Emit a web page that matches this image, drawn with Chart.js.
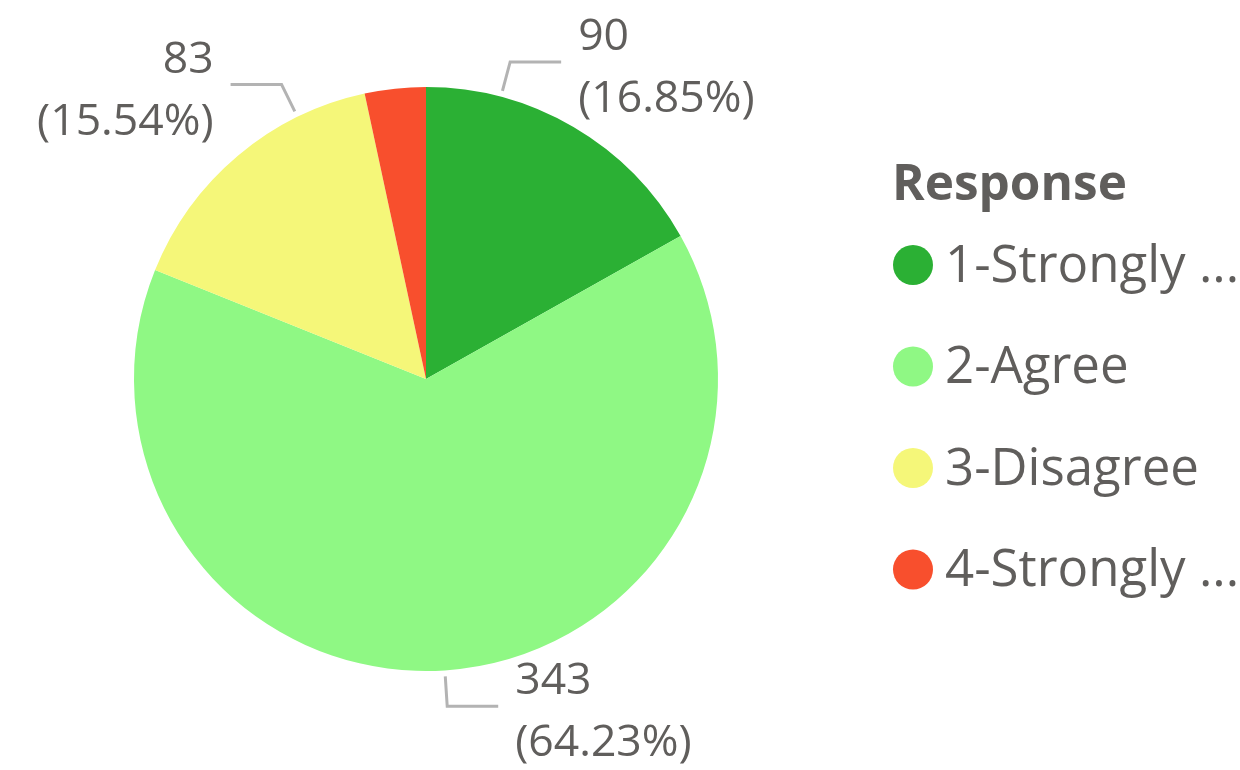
<!DOCTYPE html>
<html>
<head>
<meta charset="utf-8">
<script src="https://cdn.jsdelivr.net/npm/chart.js@4.4.1/dist/chart.umd.min.js"></script>
<style>
  html, body { margin: 0; padding: 0; background: #ffffff; }
  #wrap { position: relative; width: 1240px; height: 770px; }
</style>
</head>
<body>
<div id="wrap"><canvas id="c"></canvas></div>
<script>
const legendTitle = "Response";
const categories = ["1-Strongly Agree", "2-Agree", "3-Disagree", "4-Strongly Disagree"];
const counts = [90, 343, 83, 18];
const sliceColors = ["#2BB034", "#8FF884", "#F5F779", "#F84F2D"];
// where along each slice the leader line leaves (fraction of slice angle); null = no label
const labelAnchorFraction = [0.245, 0.5, 0.75, null];

const FONT = '"Open Sans", "Noto Sans", sans-serif';
const TEXT_COLOR = '#605E5C';

const total = counts.reduce((a, b) => a + b, 0);

const labelPlugin = {
  id: 'pieLabels',
  afterDatasetsDraw(chart) {
    const ctx = chart.ctx;
    const meta = chart.getDatasetMeta(0);
    ctx.save();
    meta.data.forEach((arc, i) => {
      const frac = labelAnchorFraction[i];
      if (frac === null) return;
      const p = arc.getProps(['x', 'y', 'startAngle', 'endAngle', 'outerRadius'], true);
      const a = p.startAngle + (p.endAngle - p.startAngle) * frac;
      const r1 = p.outerRadius + 6, r2 = p.outerRadius + 36;
      const sx = p.x + Math.cos(a) * r1, sy = p.y + Math.sin(a) * r1;
      const ex = p.x + Math.cos(a) * r2, ey = p.y + Math.sin(a) * r2;
      const right = ex >= p.x;
      const hx = ex + (right ? 51 : -51);
      ctx.strokeStyle = '#B3B3B3';
      ctx.lineWidth = 3;
      ctx.lineJoin = 'miter';
      ctx.beginPath();
      ctx.moveTo(sx, sy);
      ctx.lineTo(ex, ey);
      ctx.lineTo(hx, ey);
      ctx.stroke();
      const v = counts[i];
      const pct = (v / total * 100).toFixed(2);
      ctx.fillStyle = TEXT_COLOR;
      ctx.font = '44.5px ' + FONT;
      ctx.textBaseline = 'alphabetic';
      ctx.textAlign = right ? 'left' : 'right';
      const tx = hx + (right ? 17 : -17);
      ctx.fillText(String(v), tx, ey - 12);
      ctx.fillText('(' + pct + '%)', tx, ey + 50);
    });
    ctx.restore();
  }
};

function truncate(ctx, text, maxW) {
  if (ctx.measureText(text).width <= maxW) return text;
  const words = text.split(' ');
  let out = words[0];
  for (let k = 1; k < words.length; k++) {
    const test = out + ' ' + words[k];
    if (ctx.measureText(test + ' ...').width > maxW) break;
    out = test;
  }
  return out + ' ...';
}

const legendPlugin = {
  id: 'customLegend',
  afterDraw(chart) {
    const ctx = chart.ctx;
    ctx.save();
    ctx.fillStyle = TEXT_COLOR;
    ctx.textAlign = 'left';
    ctx.textBaseline = 'alphabetic';
    ctx.font = 'bold 49.5px ' + FONT;
    ctx.fillText(legendTitle, 892, 200);
    ctx.font = '51px ' + FONT;
    ctx.textBaseline = 'middle';
    categories.forEach((lab, i) => {
      const cy = 265 + i * 101.5;
      ctx.fillStyle = sliceColors[i];
      ctx.beginPath();
      ctx.arc(913, cy, 20, 0, Math.PI * 2);
      ctx.fill();
      ctx.fillStyle = TEXT_COLOR;
      ctx.fillText(truncate(ctx, lab, 1240 - 945), 945, cy + 2);
    });
    ctx.restore();
  }
};

new Chart(document.getElementById('c'), {
  type: 'pie',
  data: {
    labels: categories,
    datasets: [{
      data: counts,
      backgroundColor: sliceColors,
      borderWidth: 0,
      hoverOffset: 0
    }]
  },
  options: {
    responsive: true,
    maintainAspectRatio: false,
    animation: false,
    layout: { padding: { left: 134, right: 522, top: 87, bottom: 99 } },
    plugins: {
      legend: { display: false },
      tooltip: { enabled: false },
      title: { display: false }
    }
  },
  plugins: [labelPlugin, legendPlugin]
});
</script>
</body>
</html>
